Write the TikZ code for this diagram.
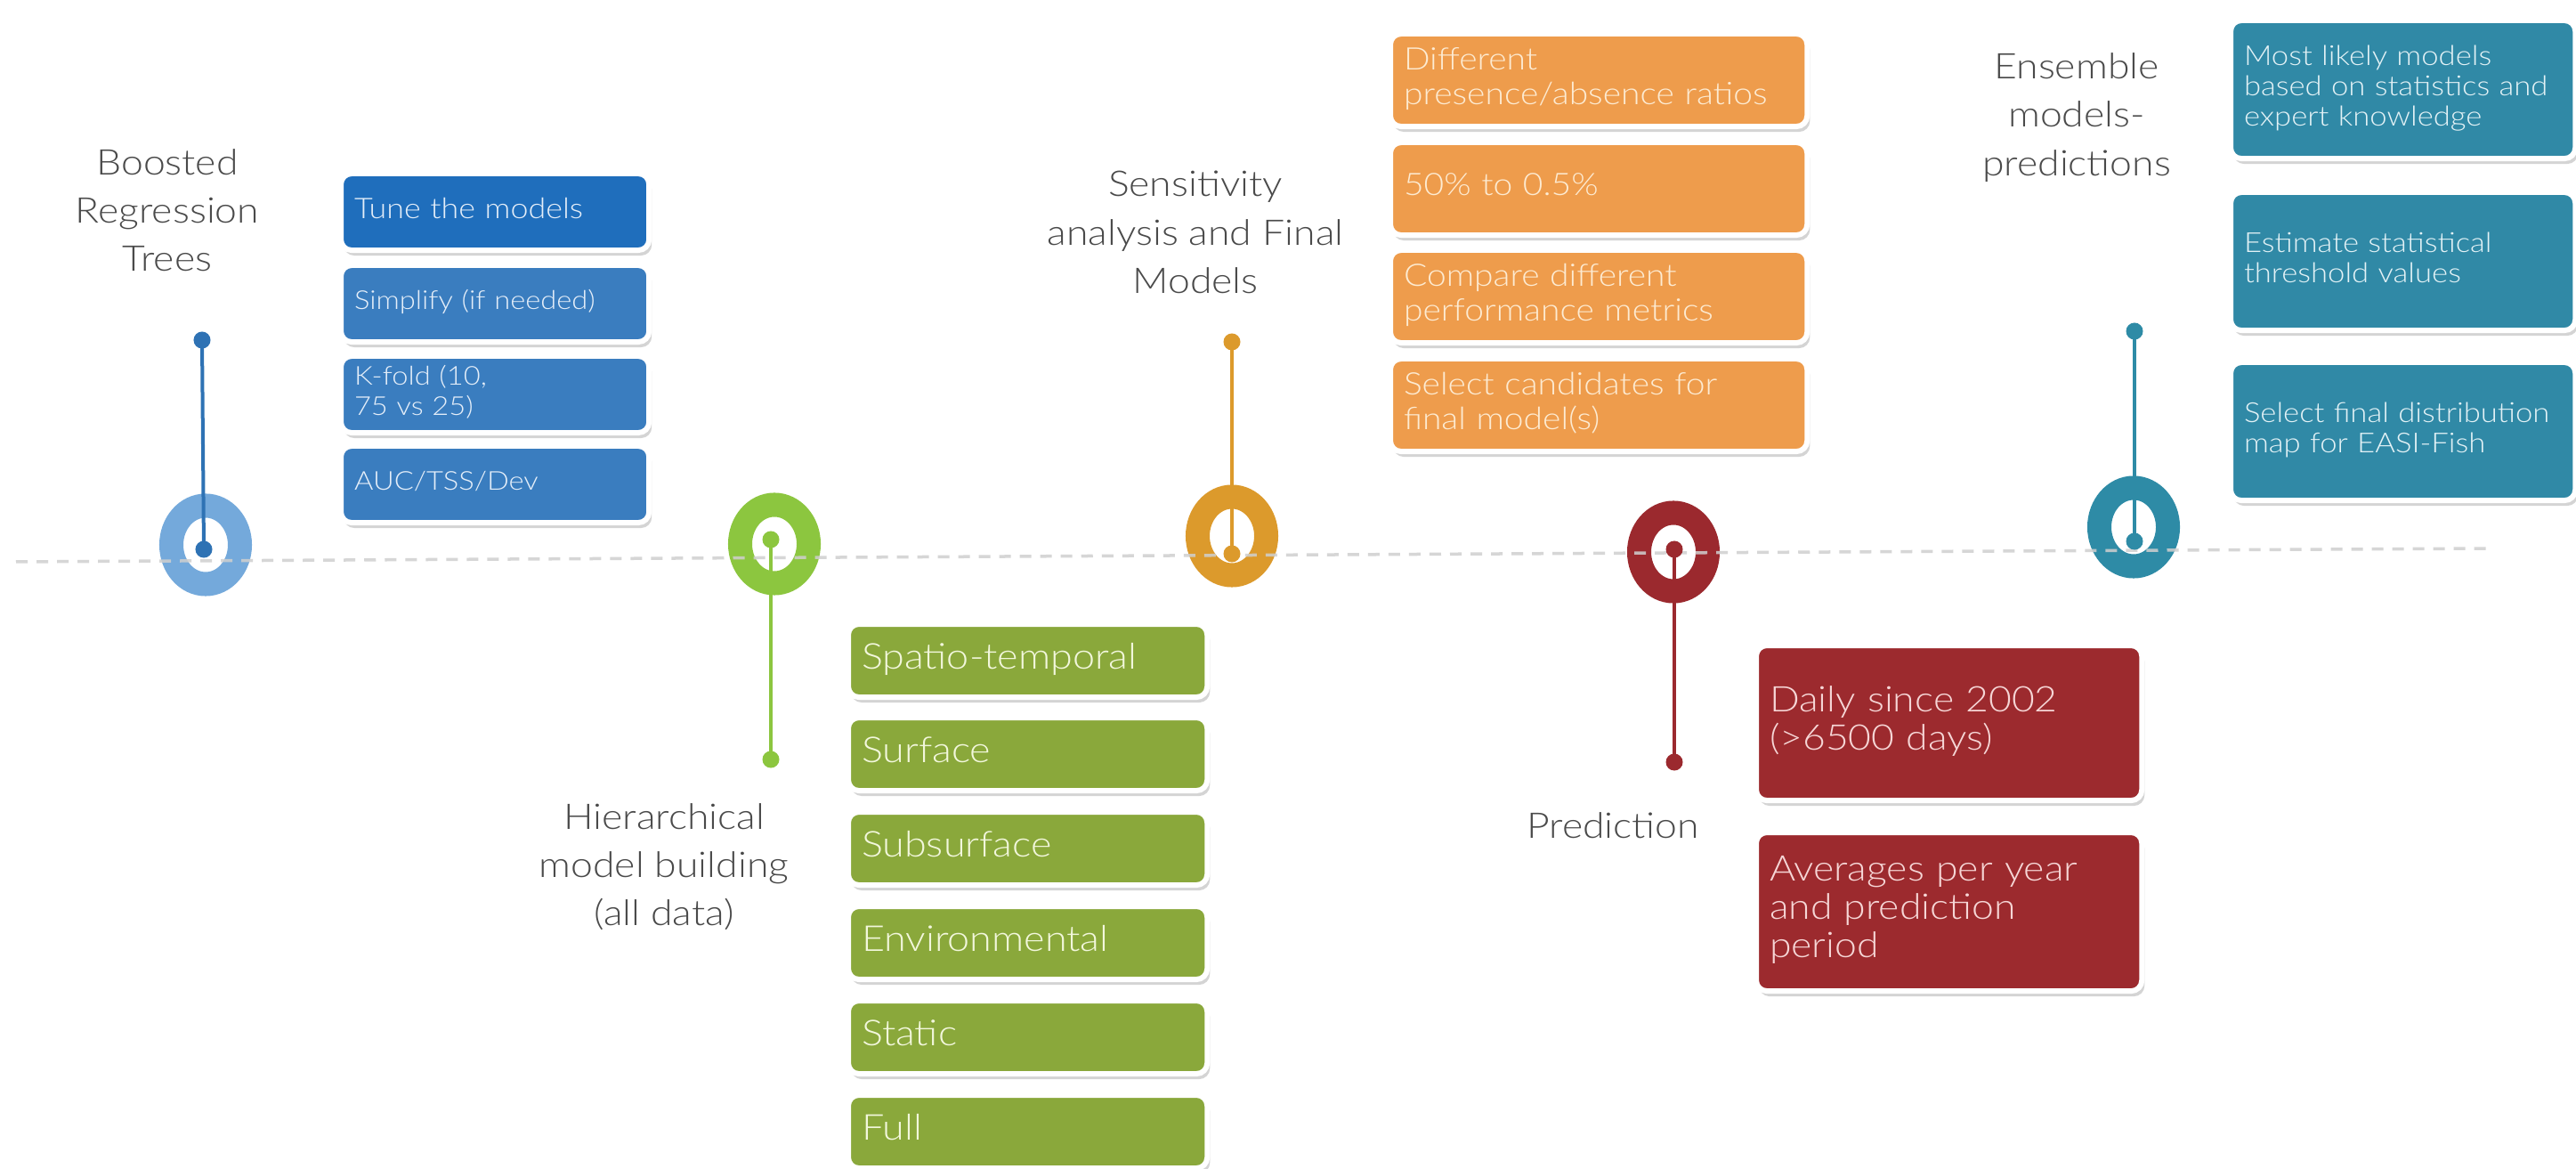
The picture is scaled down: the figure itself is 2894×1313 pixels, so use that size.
\documentclass[tikz,border=0pt]{standalone}
\usepackage{fontspec}
\IfFontExistsTF{Lato Light}
  {\setmainfont{Lato Light}[FakeStretch=1.12]}
  {\setmainfont{Lato}[FakeStretch=1.12]}
\usetikzlibrary{shapes.geometric,shadows}

% palette
\definecolor{labelgray}{HTML}{4A4A4A}
\definecolor{lineGray}{HTML}{CFCFCF}
\definecolor{ringBlue}{HTML}{74A9DB}
\definecolor{stemBlue}{HTML}{2E72B4}
\definecolor{boxBlueA}{HTML}{1F6EBC}
\definecolor{boxBlueB}{HTML}{3A7DBF}
\definecolor{txtBlue}{HTML}{E4EEF9}
\definecolor{ringGreen}{HTML}{8CC63F}
\definecolor{boxGreen}{HTML}{8AA83B}
\definecolor{txtGreen}{HTML}{F2F7DC}
\definecolor{ringGold}{HTML}{DC9A2C}
\definecolor{boxOrange}{HTML}{EE9C4C}
\definecolor{txtOrange}{HTML}{FDEBD2}
\definecolor{ringRed}{HTML}{9B292E}
\definecolor{boxRed}{HTML}{9C2A2E}
\definecolor{txtRed}{HTML}{F6D6D6}
\definecolor{ringTeal}{HTML}{2E8BA6}
\definecolor{boxTeal}{HTML}{3089A6}
\definecolor{txtTeal}{HTML}{E3F2F6}

\newcommand\celllines[1]{\begin{tabular}{@{}l@{}}#1\end{tabular}}

\begin{document}
\begin{tikzpicture}[x=0.01cm,y=-0.01cm,
  tlring/.style={ellipse, draw=#1, line width=0.27cm, minimum width=0.77cm,
    minimum height=0.88cm, inner sep=0pt},
  tldot/.style={circle, fill=#1, minimum size=0.19cm, inner sep=0pt},
  tlstem/.style={draw=#1, line width=0.04cm},
  timeline/.style={draw=lineGray, line width=0.035cm,
    dash pattern=on 0.13cm off 0.1cm, opacity=0.85},
  phase/.style={align=center, text=labelgray,
    font=\fontsize{11.3}{15.4}\selectfont},
  card/.style={rectangle, rounded corners=0.12cm, draw=white,
    line width=0.06cm, anchor=north west, inner xsep=0.15cm, inner ysep=0pt,
    align=left, drop shadow={shadow xshift=0.03cm, shadow yshift=-0.06cm,
      opacity=0.3, fill=black!55}},
  bluecard/.style={card, fill=boxBlueB, text=txtBlue, minimum width=3.46cm,
    text width=3.16cm, minimum height=0.86cm,
    font=\fontsize{8.3}{9.7}\selectfont},
  greencard/.style={card, fill=boxGreen, text=txtGreen, minimum width=4.03cm,
    text width=3.73cm, minimum height=0.82cm,
    font=\fontsize{11.4}{13}\selectfont},
  orangecard/.style={card, fill=boxOrange, text=txtOrange, minimum width=4.68cm,
    text width=4.38cm, minimum height=1.04cm,
    font=\fontsize{9.9}{11.2}\selectfont},
  redcard/.style={card, fill=boxRed, text=txtRed, minimum width=4.33cm,
    text width=4.03cm, font=\fontsize{11.3}{12.2}\selectfont},
  tealcard/.style={card, fill=boxTeal, text=txtTeal, minimum width=3.87cm,
    text width=3.57cm, minimum height=1.55cm,
    font=\fontsize{8.8}{9.7}\selectfont}
]
\useasboundingbox (0,0) rectangle (2894,1313);
\fill[white] (0,0) rectangle (2894,1313);

% milestone rings on the time axis
\node[tlring=ringBlue]  (r1) at (231,612) {};
\node[tlring=ringGreen] (r2) at (870,611) {};
\node[tlring=ringGold]  (r3) at (1384,602) {};
\node[tlring=ringRed]   (r4) at (1880,620) {};
\node[tlring=ringTeal]  (r5) at (2397,592) {};

% the dashed time axis
\coordinate (axisL) at (18,631);
\coordinate (axisR) at (2796,616);
\draw[timeline] (axisL) -- (axisR);

% stems with their end dots
\node[tldot=stemBlue]  (p1) at (229,617) {};
\node[tldot=stemBlue]  (q1) at (227,382) {};
\draw[tlstem=stemBlue] (p1.center) -- (q1.center);

\node[tldot=ringGreen] (p2) at (866,606) {};
\node[tldot=ringGreen] (q2) at (866,853) {};
\draw[tlstem=ringGreen] (p2.center) -- (q2.center);

\node[tldot=ringGold]  (p3) at (1384,622) {};
\node[tldot=ringGold]  (q3) at (1384,384) {};
\draw[tlstem=ringGold] (p3.center) -- (q3.center);

\node[tldot=ringRed]   (p4) at (1881,617) {};
\node[tldot=ringRed]   (q4) at (1881,856) {};
\draw[tlstem=ringRed] (p4.center) -- (q4.center);

\node[tldot=ringTeal]  (p5) at (2398,608) {};
\node[tldot=ringTeal]  (q5) at (2398,372) {};
\draw[tlstem=ringTeal] (p5.center) -- (q5.center);

% phase titles
\node[phase] (t1) at (188,236) {Boosted\\Regression\\Trees};
\node[phase] (t2) at (746,974) {Hierarchical\\model building\\(all data)};
\node[phase] (t3) at (1343,261) {Sensitivity\\analysis and Final\\Models};
\node[phase] (t4) at (1812,927) {Prediction};
\node[phase] (t5) at (2333,132) {Ensemble\\models-\\predictions};

% boosted regression trees steps
\node[bluecard, fill=boxBlueA, font=\fontsize{9.1}{10.5}\selectfont] (b1) at (380,192) {\celllines{Tune the models}};
\node[bluecard] (b2) at (380,295) {\celllines{Simplify (if needed)}};
\node[bluecard] (b3) at (380,397) {\celllines{K-fold (10,\\75 vs 25)}};
\node[bluecard] (b4) at (380,498) {\celllines{AUC/TSS/Dev}};

% hierarchical model building steps
\node[greencard] (g1) at (950,698)  {\celllines{Spatio-temporal}};
\node[greencard] (g2) at (950,803)  {\celllines{Surface}};
\node[greencard] (g3) at (950,909)  {\celllines{Subsurface}};
\node[greencard] (g4) at (950,1015) {\celllines{Environmental}};
\node[greencard] (g5) at (950,1121) {\celllines{Static}};
\node[greencard] (g6) at (950,1227) {\celllines{Full}};

% sensitivity analysis steps
\node[orangecard] (o1) at (1559,35)  {\celllines{Different\\presence/absence ratios}};
\node[orangecard] (o2) at (1559,157) {\celllines{50\% to 0.5\%}};
\node[orangecard] (o3) at (1559,278) {\celllines{Compare different\\performance metrics}};
\node[orangecard] (o4) at (1559,400) {\celllines{Select candidates for\\final model(s)}};

% prediction steps
\node[redcard, minimum height=1.74cm] (d1) at (1970,722) {\celllines{Daily since 2002\\(>6500 days)}};
\node[redcard, minimum height=1.78cm] (d2) at (1970,932) {\celllines{Averages per year\\and prediction\\period}};

% ensemble steps
\node[tealcard] (e1) at (2503,20)  {\celllines{Most likely models\\based on statistics and\\expert knowledge}};
\node[tealcard] (e2) at (2503,213) {\celllines{Estimate statistical\\threshold values}};
\node[tealcard] (e3) at (2503,404) {\celllines{Select final distribution\\map for EASI-Fish}};
\end{tikzpicture}
\end{document}
